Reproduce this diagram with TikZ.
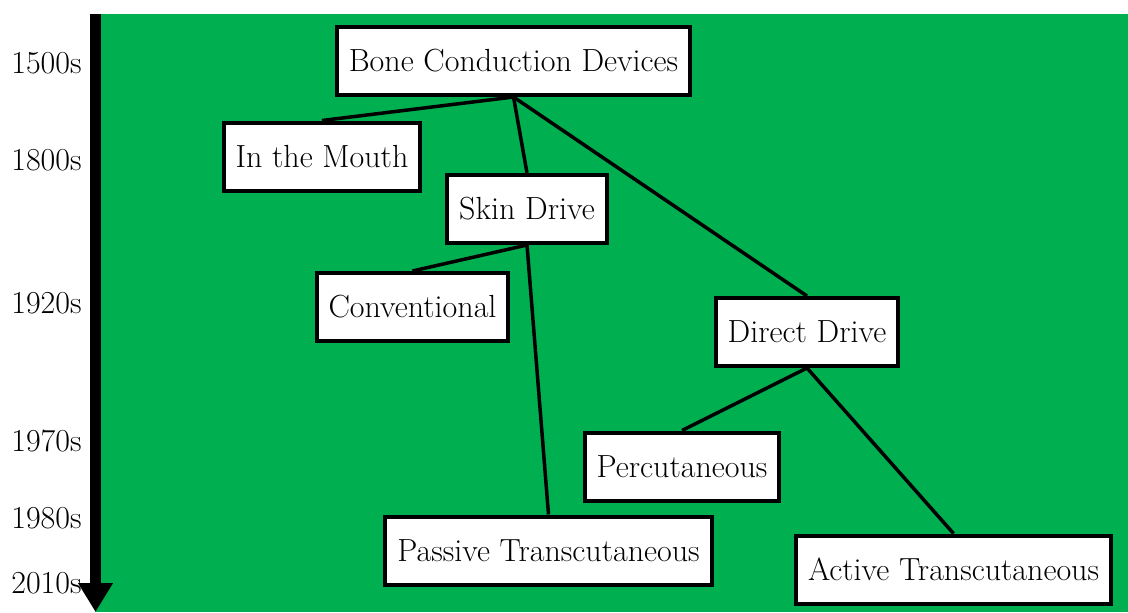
\documentclass[tikz,border=0pt]{standalone}
\usepackage{tikz}
\usetikzlibrary{arrows.meta}
\definecolor{bggreen}{RGB}{0,176,80}
\tikzset{
    devbox/.style={draw, fill=white, line width=2pt, minimum height=34pt, inner xsep=6pt, font=\fontsize{16}{19}\selectfont},
    yearlabel/.style={anchor=east, inner sep=0pt, font=\fontsize{16}{19}\selectfont},
    branch/.style={line width=1.75pt}
}

\begin{document}
\begin{tikzpicture}[x=0.5pt, y=-0.5pt]
    \useasboundingbox (0, 0) rectangle (1128, 612);

    % Background panel
    \fill[bggreen] (95, 14) rectangle (1128, 612);

    % The time axis
    \coordinate (ttop) at (95.5, 14);
    \coordinate (tbot) at (95.5, 612);
    \draw[line width=5.5pt, -{Triangle[width=16.5pt, length=14.5pt]}] (ttop) -- (tbot);

    \node[yearlabel] (y1500) at (82, 63) {1500s};
    \node[yearlabel] (y1800) at (82, 160) {1800s};
    \node[yearlabel] (y1920) at (82, 303) {1920s};
    \node[yearlabel] (y1970) at (82, 441) {1970s};
    \node[yearlabel] (y1980) at (82, 518) {1980s};
    \node[yearlabel] (y2010) at (82, 583) {2010s};

    % The device families
    \node[devbox] (bcd) at (513.5, 61) {Bone Conduction Devices};
    \node[devbox] (mouth) at (322, 156.5) {In the Mouth};
    \node[devbox] (skin) at (527, 209) {Skin Drive};
    \node[devbox] (conv) at (412.5, 307) {Conventional};
    \node[devbox] (direct) at (807, 332) {Direct Drive};
    \node[devbox] (perc) at (682, 466.5) {Percutaneous};
    \node[devbox] (passive) at (548.5, 550.5) {Passive Transcutaneous};
    \node[devbox] (active) at (953.5, 569.5) {Active Transcutaneous};

    % Branches
    \draw[branch] (bcd.south) -- (mouth.north);
    \draw[branch] (bcd.south) -- (skin.north);
    \draw[branch] (bcd.south) -- (direct.north);
    \draw[branch] (skin.south) -- (conv.north);
    \draw[branch] (skin.south) -- (passive.north);
    \draw[branch] (direct.south) -- (perc.north);
    \draw[branch] (direct.south) -- (active.north);
\end{tikzpicture}
\end{document}
